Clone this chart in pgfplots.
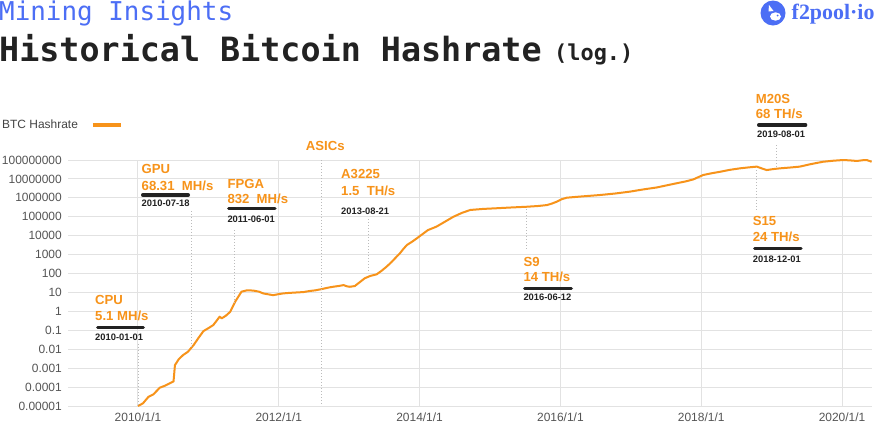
\documentclass[border=0pt]{standalone}
\usepackage{pgfplots}
\pgfplotsset{compat=1.18}
\usepackage{fontspec}
\setmainfont{Liberation Sans}
\newfontfamily\monofont{DejaVu Sans Mono}
\newfontfamily\seriffont{Liberation Serif}
\definecolor{btc}{HTML}{F7931A}
\definecolor{blueT}{HTML}{4C6EF5}
\definecolor{darkT}{HTML}{222222}
\definecolor{gridc}{HTML}{E2E2E2}
\definecolor{tickc}{HTML}{555555}
\definecolor{legc}{HTML}{444444}
\definecolor{dotc}{HTML}{BBBBBB}
\tikzset{
 lab/.style={anchor=base west, inner sep=0pt, text=btc, font=\bfseries\fontsize{13.2}{13.2}\selectfont},
 dt/.style={anchor=base west, inner sep=0pt, text=darkT, font=\bfseries\fontsize{9.4}{9.4}\selectfont},
 bar/.style={line width=3.5bp, line cap=round, draw=darkT},
 dl/.style={draw=dotc, line width=0.8bp, dash pattern=on 1bp off 2bp}
}
\begin{document}
\begin{tikzpicture}[x=1bp,y=1bp]
\useasboundingbox (0,-424) rectangle (875,0);
\fill[white] (0,-424) rectangle (875,0);
\begin{axis}[
 at={(68bp,-406bp)}, anchor=south west,
 scale only axis, width=804bp, height=246bp,
 xmin=2009.006, xmax=2020.426,
 ymode=log, log basis y=10, ymin=1e-5, ymax=1e8,
 xtick={2010,2012,2014,2016,2018,2020},
 xticklabels={2010/1/1,2012/1/1,2014/1/1,2016/1/1,2018/1/1,2020/1/1},
 ytick={1e-5,1e-4,1e-3,1e-2,1e-1,1,10,100,1000,10000,100000,1000000,10000000,100000000},
 yticklabels={0.00001,0.0001,0.001,0.01,0.1,1,10,100,1000,10000,100000,1000000,10000000,100000000},
 xmajorgrids, ymajorgrids, grid style={gridc, line width=1bp},
 axis line style={draw=none},
 major tick length=0pt,
 tick label style={font=\fontsize{12}{12}\selectfont, text=tickc},
 xticklabel style={anchor=base, yshift=-15bp, inner sep=0pt},
 yticklabel style={anchor=east, xshift=-6bp, inner sep=0pt},
 /pgf/number format/assume math mode=true,
 clip=false,
 legend plot pos=right,
 legend image code/.code={\path[draw=none,fill=none] (0bp,-2bp) rectangle (41bp,2bp); \draw[btc, line width=4bp] (13bp,0bp) -- (41bp,0bp);},
 legend style={draw=none, fill=none, at={(-0.0846,1.143)}, anchor=west,
   font=\fontsize{12}{12}\selectfont, text=legc, inner sep=0pt},
]
\addplot[color=btc, line width=2bp, line join=round] coordinates {
(2010.00,1e-5) (2010.07,1.38e-5) (2010.15,3.09e-5) (2010.22,4.17e-5)
(2010.31,9.3e-5) (2010.38,1.17e-4) (2010.44,1.5e-4) (2010.505,2.0e-4)
(2010.525,1.45e-3) (2010.58,3.0e-3) (2010.64,4.9e-3) (2010.71,7.4e-3)
(2010.79,0.0166) (2010.86,0.04) (2010.93,0.091) (2011.00,0.13) (2011.07,0.19)
(2011.16,0.525) (2011.19,0.43) (2011.25,0.6) (2011.31,0.95) (2011.38,3.24)
(2011.47,11) (2011.55,13) (2011.64,12.6) (2011.72,11) (2011.78,8.9)
(2011.85,8.0) (2011.92,7.2) (2012.00,8.2) (2012.06,8.9) (2012.15,9.5)
(2012.25,10) (2012.35,10.5) (2012.44,12) (2012.52,13) (2012.61,15.1)
(2012.70,18) (2012.77,20) (2012.85,22) (2012.92,24.5) (2012.97,21)
(2013.01,20) (2013.08,21.9) (2013.15,35) (2013.22,56) (2013.30,75)
(2013.39,91) (2013.46,140) (2013.53,229) (2013.60,400) (2013.65,631)
(2013.72,1175) (2013.77,2000) (2013.82,3236) (2013.90,5000) (2013.96,7244)
(2014.04,12000) (2014.12,19950) (2014.24,30200) (2014.36,55000)
(2014.48,1e5) (2014.60,160000) (2014.72,229000) (2014.90,260000)
(2015.09,282000) (2015.30,310000) (2015.52,339000) (2015.68,370000)
(2015.81,417000) (2015.88,500000) (2015.95,631000) (2016.02,850000)
(2016.09,1.02e6) (2016.28,1.17e6) (2016.56,1.41e6) (2016.78,1.7e6)
(2016.99,2.14e6) (2017.18,2.8e6) (2017.37,3.55e6) (2017.50,4.5e6)
(2017.65,5.9e6) (2017.78,7.4e6) (2017.89,9.5e6) (2017.96,1.25e7)
(2018.03,1.62e7) (2018.15,2.0e7) (2018.27,2.4e7) (2018.40,3.0e7)
(2018.55,3.63e7) (2018.68,4.1e7) (2018.79,4.47e7) (2018.86,3.6e7)
(2018.93,2.95e7) (2019.02,3.3e7) (2019.12,3.63e7) (2019.26,4.0e7)
(2019.40,4.47e7) (2019.55,6.0e7) (2019.73,8.1e7) (2019.88,9.2e7)
(2020.02,1e8) (2020.12,9.5e7) (2020.21,8.9e7) (2020.30,9.8e7)
(2020.35,1e8) (2020.42,8.1e7)
};
\addlegendentry{BTC Hashrate}
\end{axis}
% dotted guides
\draw[dl] (138,-344) -- (138,-405);
\draw[dl] (191.7,-211) -- (191.7,-347);
\draw[dl] (234,-230) -- (234,-304);
\draw[dl] (321,-160) -- (321,-404);
\draw[dl] (368.3,-219) -- (368.3,-271);
\draw[dl] (526.7,-209) -- (526.7,-250);
\draw[dl] (756.7,-170) -- (756.7,-212);
\draw[dl] (776,-145) -- (776,-167);
% CPU
\node[lab] at (95,-304) {CPU};
\node[lab] at (95,-320) {5.1 MH/s};
\draw[bar] (97.75,-327.3) -- (143.25,-327.3);
\node[dt] at (95,-340) {2010-01-01};
% GPU
\node[lab] at (141.5,-173.3) {GPU};
\node[lab] at (141.5,-190) {68.31\ \ MH/s};
\draw[bar] (142.75,-195) -- (188.25,-195);
\node[dt] at (141.5,-206.7) {2010-07-18};
% FPGA
\node[lab] at (227.3,-188.3) {FPGA};
\node[lab] at (227.3,-203.3) {832\ \ MH/s};
\draw[bar] (228.75,-208.3) -- (274.95,-208.3);
\node[dt] at (227.3,-222.7) {2011-06-01};
% ASICs
\node[lab] at (305.7,-150) {ASICs};
% A3225
\node[lab] at (341,-178.3) {A3225};
\node[lab] at (341,-195) {1.5\ \ TH/s};
\node[dt] at (341,-214.3) {2013-08-21};
% S9
\node[lab] at (523.3,-266.7) {S9};
\node[lab] at (523.3,-281) {14 TH/s};
\draw[bar] (524.75,-288.3) -- (571.25,-288.3);
\node[dt] at (523.3,-300.7) {2016-06-12};
% S15
\node[lab] at (752.7,-225.7) {S15};
\node[lab] at (752.7,-241.7) {24 TH/s};
\draw[bar] (754.75,-248.3) -- (800.95,-248.3);
\node[dt] at (752.7,-262.7) {2018-12-01};
% M20S
\node[lab] at (755.7,-103.3) {M20S};
\node[lab] at (755.7,-118.3) {68 TH/s};
\draw[bar] (758.75,-125) -- (805.55,-125);
\node[dt] at (757,-137.3) {2019-08-01};
% titles
\node[anchor=base west, inner sep=0pt, text=blueT, font=\monofont\fontsize{26}{26}\selectfont] at (-1,-20) {Mining Insights};
\node[anchor=base west, inner sep=0pt, text=darkT, font=\monofont\bfseries\fontsize{33.5}{33.5}\selectfont] at (-1,-61.7) {Historical Bitcoin Hashrate};
\node[anchor=base west, inner sep=0pt, text=darkT, font=\monofont\bfseries\fontsize{22}{22}\selectfont] at (554,-60) {(log.)};
% logo
\fill[blueT] (773,-13) circle (12.5);
\fill[white] (775.5,-16.5) ellipse (5.5 and 4.2);
\fill[white] (769,-5) -- (773.5,-11) -- (768.5,-11.5) -- cycle;
\fill[blueT] (777.5,-15.5) circle (1);
\node[anchor=base west, inner sep=0pt, text=blueT, font=\seriffont\bfseries\fontsize{22}{22}\selectfont] at (791.5,-19) {f2pool·io};
\end{tikzpicture}
\end{document}
